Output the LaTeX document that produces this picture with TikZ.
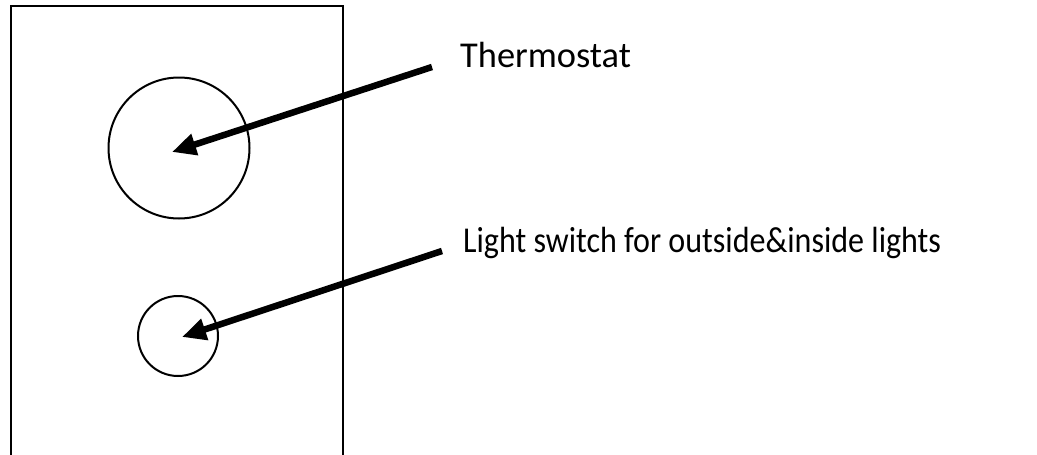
\documentclass[tikz,border=0pt]{standalone}
\usepackage{fontspec}
\setmainfont{Carlito}
\usetikzlibrary{arrows.meta}
\tikzset{epais/.style={line width=6.5pt},
	knob/.style={draw,circle,line width=2pt,inner sep=0pt},
	label text/.style={anchor=base west,inner sep=0pt,font=\fontsize{36.4}{40}\selectfont}}
\newcommand{\plate}[2]{\draw[line width=2.4pt] (#1) rectangle (#2)}
\newcommand{\pointer}[2]{\draw[epais,-{Triangle[length=24pt,width=21pt]}] (#1) -- (#2)}
\begin{document}
\begin{tikzpicture}[x=1pt,y=-1pt]
	\useasboundingbox (0,0) rectangle (1037,455);
%The wall plate
	\plate{11,6}{343,470};
%The controls
	\node[knob,minimum size=141pt] (thermo) at (179,148) {};
	\node[knob,minimum size=80pt] (switch) at (178,336) {};
	\coordinate (thermotip) at (172,152);
	\coordinate (switchtip) at (182,337);
%Labels
	\node[label text] (thermolabel) at (460,67) {Thermostat};
	\node[label text] (switchlabel) at (463,252) {\scalebox{0.88}[1]{Light switch for outside\&inside lights}};
	\coordinate (thermotail) at (432,67);
	\coordinate (switchtail) at (442,251);
%Arrows
	\pointer{thermotail}{thermotip};
	\pointer{switchtail}{switchtip};
\end{tikzpicture}
\end{document}
